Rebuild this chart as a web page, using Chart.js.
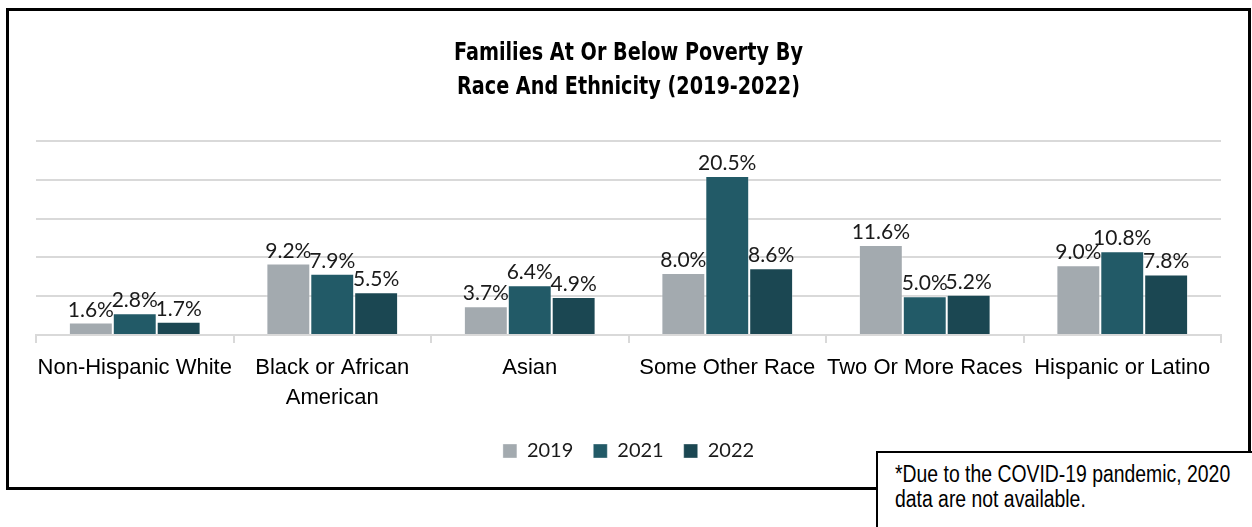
<!DOCTYPE html>
<html lang="en">
<head>
    <meta charset="UTF-8">
    <title>Families At Or Below Poverty By Race And Ethnicity (2019-2022)</title>
    <script src="https://cdn.jsdelivr.net/npm/chart.js"></script>
    <style>
        body { margin: 0; background: #fff; width: 1252px; height: 527px; overflow: hidden; position: relative; }
        #frame { position: absolute; left: 6px; top: 8px; width: 1245px; height: 482px; box-sizing: border-box; border: 3px solid #000; }
        #frame canvas { display: block; }
        /* 좁은 굵은 제목 (가로 압축) */
        #title {
            position: absolute; left: 0; top: 24px; width: 100%; text-align: center;
            font-family: "DejaVu Sans Condensed", "DejaVu Sans", sans-serif; font-weight: bold;
            font-size: 24px; line-height: 34px; color: #000;
            transform: scaleX(0.89); transform-origin: center top;
        }
        #note {
            position: absolute; left: 876px; top: 451px; width: 400px; height: 100px;
            box-sizing: border-box; border: 2px solid #000; background: #fff;
            padding: 9px 0 0 17px;
        }
        #note div {
            font-family: "Liberation Sans", Arial, sans-serif;
            font-size: 23.5px; line-height: 25px; color: #000; white-space: nowrap;
            transform: scaleX(0.825); transform-origin: left top;
        }
    </style>
</head>
<body>
    <div id="frame">
        <canvas id="myChart" width="1239" height="476"></canvas>
        <div id="title">Families At Or Below Poverty By<br>Race And Ethnicity (2019-2022)</div>
    </div>
    <div id="note"><div>*Due to the COVID-19 pandemic, 2020<br>data are not available.</div></div>

    <script>
        // 카테고리와 연도별 빈곤 가구 비율 (%)
        const categories = [
            'Non-Hispanic White',
            ['Black or African', 'American'],
            'Asian',
            'Some Other Race',
            'Two Or More Races',
            'Hispanic or Latino'
        ];
        const years = ['2019', '2021', '2022'];
        const values2019 = [1.6, 9.2, 3.7, 8.0, 11.6, 9.0];
        const values2021 = [2.8, 7.9, 6.4, 20.5, 5.0, 10.8];
        const values2022 = [1.7, 5.5, 4.9, 8.6, 5.2, 7.8];
        const yTicks = [0, 5, 10, 15, 20, 25];

        const barColors = ['#a3aaaf', '#225a67', '#1b4752'];

        // 막대 위에 값 라벨 표시
        const valueLabels = {
            id: 'valueLabels',
            afterDatasetsDraw(chart) {
                const ctx = chart.ctx;
                ctx.save();
                ctx.font = '21px Lato, "Open Sans", sans-serif';
                ctx.fillStyle = '#1a1a1a';
                ctx.textAlign = 'center';
                ctx.textBaseline = 'alphabetic';
                chart.data.datasets.forEach((ds, i) => {
                    chart.getDatasetMeta(i).data.forEach((bar, j) => {
                        ctx.fillText(ds.data[j].toFixed(1) + '%', bar.x, bar.y - 6);
                    });
                });
                ctx.restore();
            }
        };

        const ctx = document.getElementById('myChart').getContext('2d');
        new Chart(ctx, {
            type: 'bar',
            data: {
                labels: categories,
                datasets: [
                    { label: years[0], data: values2019, backgroundColor: barColors[0] },
                    { label: years[1], data: values2021, backgroundColor: barColors[1] },
                    { label: years[2], data: values2022, backgroundColor: barColors[2] }
                ].map(ds => Object.assign(ds, {
                    borderColor: 'rgba(255,255,255,0.35)',
                    borderWidth: 1,
                    categoryPercentage: 0.667,
                    barPercentage: 1.0
                }))
            },
            options: {
                responsive: false,
                animation: false,
                layout: { padding: { left: 27, right: 27, top: 130, bottom: 16 } },
                plugins: {
                    title: { display: false },
                    legend: {
                        position: 'bottom',
                        labels: {
                            boxWidth: 14,
                            boxHeight: 14,
                            padding: 20,
                            color: '#1a1a1a',
                            font: { family: 'Lato, "Open Sans", sans-serif', size: 20 }
                        }
                    },
                    tooltip: { enabled: false }
                },
                scales: {
                    x: {
                        grid: { display: true, drawOnChartArea: false, drawTicks: true, tickLength: 8, color: '#d9d9d9', lineWidth: 2 },
                        border: { display: true, color: '#d9d9d9', width: 2 },
                        ticks: {
                            color: '#000',
                            padding: 10,
                            autoSkip: false,
                            maxRotation: 0,
                            font: { family: '"Liberation Sans", Arial, sans-serif', size: 22, lineHeight: 1.364 }
                        },
                        afterFit(scale) { scale.height -= 2; }
                    },
                    y: {
                        min: yTicks[0],
                        max: yTicks[yTicks.length - 1],
                        afterBuildTicks(scale) { scale.ticks = yTicks.map(v => ({ value: v })); },
                        ticks: { display: false },
                        grid: { color: '#d9d9d9', lineWidth: 2, drawTicks: false },
                        border: { display: false }
                    }
                }
            },
            plugins: [valueLabels]
        });
    </script>
</body>
</html>
